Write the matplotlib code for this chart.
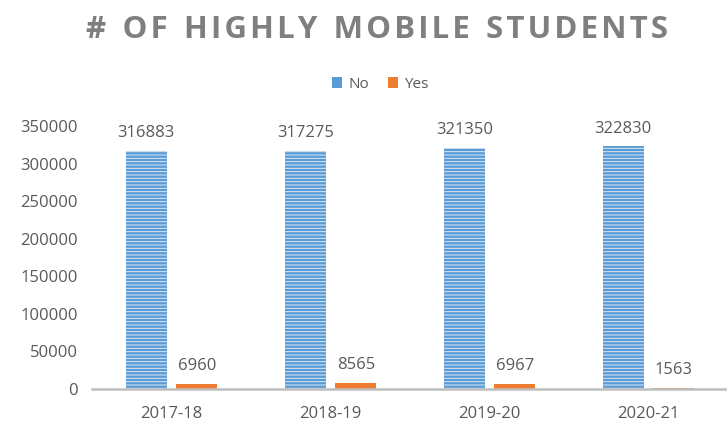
import numpy as np
import matplotlib
matplotlib.use("Agg")
import matplotlib.pyplot as plt
from matplotlib.patches import Patch

years = ['2017-18', '2018-19', '2019-20', '2020-21']
no_counts = [316883, 317275, 321350, 322830]
yes_counts = [6960, 8565, 6967, 1563]
yticks = [0, 50000, 100000, 150000, 200000, 250000, 300000, 350000]
title = '# OF HIGHLY MOBILE STUDENTS'

plt.rcParams['font.family'] = ['Open Sans', 'DejaVu Sans']
plt.rcParams['hatch.linewidth'] = 0.7
text_col = '#595959'
blue = '#5b9bd5'
orange = '#ed7d31'

fig = plt.figure(figsize=(7.27, 4.23), dpi=100)
ax = fig.add_axes([0.1265, 0.0804, 0.875, 0.6216])

x = np.arange(len(years))
w = 0.258
off = 0.159
bars_no = ax.bar(x - off, no_counts, w, color=blue, edgecolor='#dce9f6',
                 hatch='-----', linewidth=0)
bars_yes = ax.bar(x + off, yes_counts, w, color=orange, linewidth=0)

for b, v in zip(bars_no, no_counts):
    ax.annotate(str(v), (b.get_x() + b.get_width() / 2, v), xytext=(0, 7),
                textcoords='offset points', ha='center', va='bottom',
                fontsize=12, color=text_col, annotation_clip=False)
for b, v in zip(bars_yes, yes_counts):
    ax.annotate(str(v), (b.get_x() + b.get_width() / 2, v), xytext=(0, 7),
                textcoords='offset points', ha='center', va='bottom',
                fontsize=12, color=text_col, annotation_clip=False)

ax.set_xlim(-0.5, 3.5)
ax.set_ylim(0, 350000)
ax.set_yticks(yticks)
ax.set_yticklabels([str(t) for t in yticks])
ax.set_xticks(x)
ax.set_xticklabels(years)
ax.tick_params(axis='y', length=0, pad=10, labelsize=12, labelcolor=text_col)
ax.tick_params(axis='x', length=0, pad=12, labelsize=12, labelcolor=text_col)
for s in ['top', 'right', 'left']:
    ax.spines[s].set_visible(False)
ax.spines['bottom'].set_color('#bfbfbf')
ax.spines['bottom'].set_linewidth(1.8)

handles = [Patch(facecolor=blue, label='No'), Patch(facecolor=orange, label='Yes')]
fig.legend(handles=handles, loc='center', bbox_to_anchor=(0.523, 0.8), ncol=2,
           frameon=False, fontsize=11, labelcolor=text_col, handlelength=0.7,
           handleheight=0.7, handletextpad=0.4, columnspacing=1.2)

# spread the letters a little, like the letter spacing in the original
spaced = '  '.join('\u200a'.join(word) for word in title.split(' '))
fig.text(0.518, 0.929, spaced, ha='center', va='center', fontsize=22.5,
         fontweight='bold', color='#7f7f7f')

fig.savefig('out.png', dpi=100)
